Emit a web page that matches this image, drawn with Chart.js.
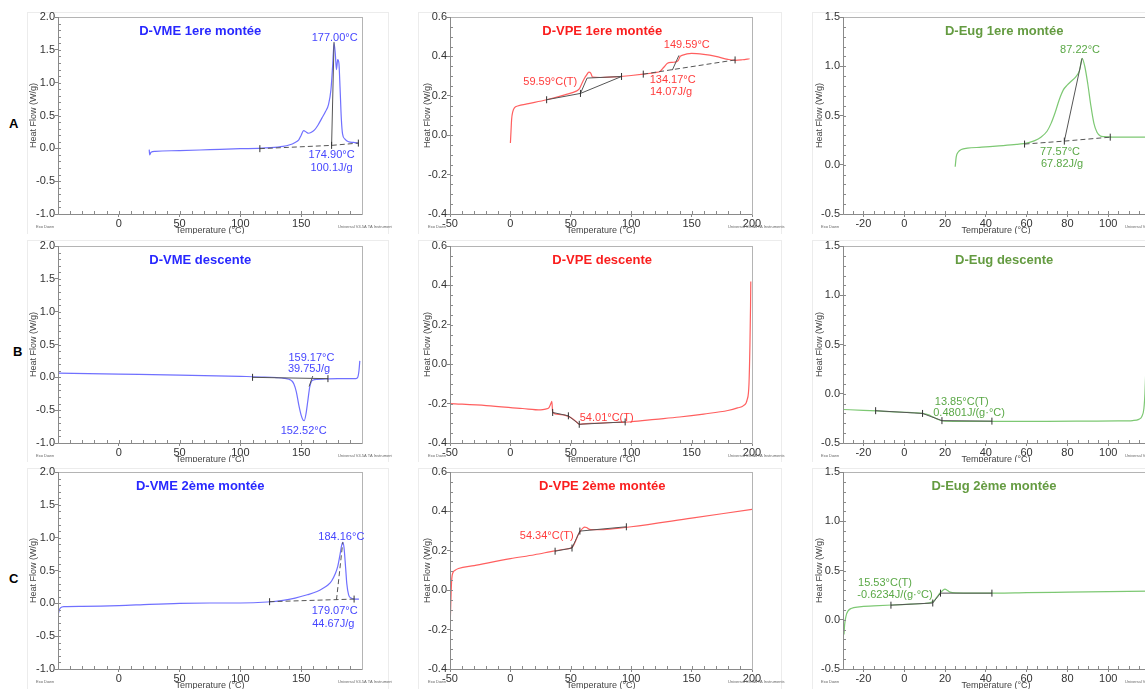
<!DOCTYPE html>
<html lang="fr">
<head>
<meta charset="UTF-8">
<title>DSC D-VME / D-VPE / D-Eug</title>
<script src="https://cdn.jsdelivr.net/npm/chart.js@4.4.0/dist/chart.umd.min.js"></script>
<style>
  html, body { margin: 0; padding: 0; background: #fff; overflow: hidden; width: 1145px; height: 689px; }
  canvas { position: absolute; background: #fff; }
  .rowlab { position: absolute; font: bold 13px "Liberation Sans", Arial, sans-serif; color: #000; line-height: 15px; }
</style>
</head>
<body>
<div class="rowlab" style="left:9px;top:116px">A</div>
<div class="rowlab" style="left:13px;top:344px">B</div>
<div class="rowlab" style="left:9px;top:571px">C</div>
<script>
// ---- curves (temperature in °C, heat flow in W/g) ----
const vme1T = [25, 25.4, 26.5, 30, 50, 75, 100, 115, 125, 135, 140, 145, 148, 150, 152, 154, 156, 158, 161, 164, 167, 170, 172.5, 174.5, 176, 177, 178, 179, 180, 181, 182, 183, 184, 186, 189, 193, 197];
const vme1H = [-0.02, -0.1, -0.06, -0.045, -0.035, -0.02, -0.005, 0.0, 0.01, 0.03, 0.05, 0.09, 0.13, 0.2, 0.27, 0.25, 0.23, 0.24, 0.28, 0.36, 0.46, 0.56, 0.67, 0.9, 1.3, 1.6, 1.45, 1.2, 1.35, 1.3, 0.9, 0.45, 0.22, 0.14, 0.1, 0.09, 0.08];

const vpe1T = [0, 0.5, 1, 2, 3.5, 6, 15, 30, 45, 55, 57, 59, 61, 63, 65, 66.5, 68, 75, 90, 100, 110, 120, 124, 127, 130, 134, 137, 139, 140.5, 142, 150, 160, 170, 180, 186, 192, 198];
const vpe1H = [-0.04, 0.02, 0.08, 0.12, 0.14, 0.148, 0.16, 0.18, 0.205, 0.225, 0.235, 0.26, 0.285, 0.305, 0.32, 0.315, 0.295, 0.293, 0.297, 0.303, 0.31, 0.318, 0.325, 0.345, 0.365, 0.37, 0.372, 0.38, 0.4, 0.405, 0.415, 0.41, 0.4, 0.385, 0.38, 0.383, 0.388];

const eug1T = [25, 25.5, 26.5, 28, 31, 38, 45, 55, 61, 64, 67, 70, 72, 74, 76, 78, 80, 82, 84, 86, 87.2, 88.5, 90, 91.5, 93, 94.5, 96, 98, 102, 110, 125];
const eug1H = [-0.02, 0.08, 0.13, 0.155, 0.168, 0.178, 0.19, 0.206, 0.225, 0.245, 0.28, 0.34, 0.42, 0.53, 0.66, 0.76, 0.81, 0.85, 0.89, 0.96, 1.08, 1.0, 0.82, 0.6, 0.42, 0.33, 0.295, 0.285, 0.28, 0.28, 0.28];

const vmeDT = [-50, 0, 50, 100, 120, 130, 136, 140, 142, 144, 146, 148, 150, 151.5, 152.5, 154, 155.5, 157, 158.5, 160, 163, 170, 180, 190, 195, 196.5, 197.5, 198.2];
const vmeDH = [0.065, 0.05, 0.035, 0.015, 0.005, -0.005, -0.015, -0.03, -0.05, -0.1, -0.22, -0.42, -0.58, -0.65, -0.66, -0.55, -0.35, -0.15, -0.06, -0.04, -0.03, -0.025, -0.02, -0.02, -0.02, 0.0, 0.1, 0.25];

const vpeDT = [-50, -20, 10, 25, 29, 32, 33.5, 34.3, 35, 40, 48, 52, 55, 57, 60, 70, 85, 100, 120, 140, 160, 180, 188, 193, 196, 197.5, 198.3, 198.8, 199];
const vpeDH = [-0.2, -0.21, -0.225, -0.232, -0.228, -0.22, -0.2, -0.188, -0.245, -0.255, -0.265, -0.28, -0.295, -0.305, -0.303, -0.3, -0.296, -0.292, -0.28, -0.268, -0.253, -0.235, -0.222, -0.21, -0.18, -0.1, 0.1, 0.3, 0.42];

const eugDT = [-30, -20, -10, 0, 5, 9, 12, 14, 16, 18, 20, 30, 50, 70, 90, 105, 112, 115, 116.5, 117.5, 118, 118.5];
const eugDH = [-0.16, -0.168, -0.178, -0.188, -0.193, -0.2, -0.215, -0.235, -0.255, -0.272, -0.278, -0.28, -0.28, -0.28, -0.278, -0.276, -0.272, -0.26, -0.23, -0.15, 0.0, 0.28];

const vme2T = [-50, -49.2, -48, -45, -30, 0, 25, 50, 75, 100, 122, 135, 145, 155, 163, 168, 172, 175, 178, 180, 182, 183.2, 184.2, 185.2, 186.5, 187.5, 189, 191, 194, 197.5];
const vme2H = [-0.19, -0.12, -0.07, -0.05, -0.045, -0.035, -0.015, 0.0, 0.005, 0.005, 0.02, 0.045, 0.08, 0.13, 0.18, 0.23, 0.28, 0.34, 0.45, 0.56, 0.75, 0.88, 0.93, 0.85, 0.55, 0.3, 0.13, 0.08, 0.065, 0.065];

const vpe2T = [-50, -49.5, -49, -48.5, -47.5, -46, -43, -30, 0, 20, 37, 45, 50, 52, 54, 56, 58, 60, 61.5, 63, 65, 68, 75, 90, 100, 150, 200];
const vpe2H = [-0.2, -0.1, 0.0, 0.06, 0.09, 0.1, 0.11, 0.125, 0.16, 0.18, 0.2, 0.208, 0.214, 0.225, 0.25, 0.28, 0.3, 0.315, 0.32, 0.318, 0.31, 0.307, 0.307, 0.315, 0.322, 0.366, 0.41];

const eug2T = [-29.5, -29.2, -28.5, -27.5, -26, -22, -15, -6, 3, 10, 12.5, 14.5, 16, 17.5, 19, 20, 21, 22.5, 25, 35, 45, 60, 80, 100, 120];
const eug2H = [-0.15, -0.05, 0.04, 0.09, 0.115, 0.13, 0.14, 0.15, 0.158, 0.165, 0.172, 0.19, 0.23, 0.27, 0.3, 0.31, 0.3, 0.28, 0.272, 0.27, 0.27, 0.275, 0.28, 0.285, 0.29];

// ---- analysis construction lines: [temperature, heat flow] ----
const vme1Base = [[116, -0.005], [175, 0.045], [197, 0.08]];
const vme1Peak = [[175, 0.045], [177, 1.62]];
const vpe1Tg = [[30, 0.18], [58, 0.212], [92, 0.298]];
const vpe1TgSlope = [[58, 0.212], [63.5, 0.29], [92, 0.298]];
const vpe1Base = [[110, 0.31], [186, 0.382]];
const vpe1Onset = [[134, 0.33], [139.5, 0.405]];
const eug1Base = [[59, 0.21], [78.5, 0.24], [101, 0.28]];
const eug1Onset = [[78.5, 0.24], [87.2, 1.08]];
const vmeDBase = [[110, 0.0], [172, -0.02]];
const vmeDOnset = [[156.5, -0.14], [159.5, 0.02]];
const vpeDTg = [[35, -0.245], [48, -0.262], [57, -0.305], [95, -0.293]];
const eugDTg = [[-14, -0.172], [9, -0.2], [18.5, -0.273], [43, -0.278]];
const vme2Base = [[124, 0.025], [193.5, 0.065]];
const vme2Onset = [[179, 0.05], [184.2, 0.93]];
const vpe2Tg = [[37, 0.198], [51, 0.214], [57.5, 0.3], [96, 0.322]];
const eug2Tg = [[-6.5, 0.148], [14, 0.17], [17.8, 0.27], [43, 0.27]];

// ---- axis ticks ----
const xTicksVME = [0, 50, 100, 150];
const xTicksVPE = [-50, 0, 50, 100, 150, 200];
const xTicksEug = [-20, 0, 20, 40, 60, 80, 100];
const yTicksVME = [-1.0, -0.5, 0.0, 0.5, 1.0, 1.5, 2.0];
const yTicksVPE = [-0.4, -0.2, 0.0, 0.2, 0.4, 0.6];
const yTicksEug = [-0.5, 0.0, 0.5, 1.0, 1.5];

const FONT = '"Liberation Sans", Arial, sans-serif';
const BLUE = { line: 'rgb(112,112,255)', text: 'rgb(70,70,255)', title: 'rgb(40,40,255)' };
const RED = { line: 'rgb(255,95,95)', text: 'rgb(255,60,60)', title: 'rgb(250,30,30)' };
const GREEN = { line: 'rgb(125,200,115)', text: 'rgb(90,168,70)', title: 'rgb(100,155,65)' };

const VME = { x: [-50, 200], y: [-1, 2], xt: xTicksVME, yt: yTicksVME, xMinor: 10, yMinor: 0.1, col: BLUE };
const VPE = { x: [-50, 200], y: [-0.4, 0.6], xt: xTicksVPE, yt: yTicksVPE, xMinor: 10, yMinor: 0.05, col: RED };
const EUG = { x: [-30, 120], y: [-0.5, 1.5], xt: xTicksEug, yt: yTicksEug, xMinor: 5, yMinor: 0.1, col: GREEN };

const rows = [{ top: 6, pad: 11 }, { top: 234, pad: 12 }, { top: 462, pad: 10 }];
// frame: faint outline of each exported picture, relative to the canvas
const cols = [{ left: 24, yw: 34, w: 368, pr: 30, frame: 3 }, { left: 418, yw: 32, w: 367, pr: 33, frame: 0 }, { left: 810, yw: 33, w: 370, pr: 31, frame: 2 }];
const XH = 26;

const panels = [
  { r: 0, c: 0, kind: VME, title: 'D-VME 1ere montée', tx: 67, T: vme1T, H: vme1H,
    lines: [[vme1Base, true, true], [vme1Peak, false, false]],
    notes: [['177.00°C', 177.5, 1.68], ['174.90°C', 175, -0.1], ['100.1J/g', 175, -0.3]] },
  { r: 0, c: 1, kind: VPE, title: 'D-VPE 1ere montée', tx: 76, T: vpe1T, H: vpe1H,
    lines: [[vpe1Tg, true, false], [vpe1TgSlope, false, false], [vpe1Base, true, true], [vpe1Onset, false, false]],
    notes: [['59.59°C(T)', 33, 0.27], ['149.59°C', 146, 0.458], ['134.17°C', 134.3, 0.278], ['14.07J/g', 133, 0.217]] },
  { r: 0, c: 2, kind: EUG, title: 'D-Eug 1ere montée', tx: 49, T: eug1T, H: eug1H,
    lines: [[eug1Base, true, true], [eug1Onset, false, false]],
    notes: [['87.22°C', 86.2, 1.17], ['77.57°C', 76.4, 0.125], ['67.82J/g', 77.4, 0.005]] },
  { r: 1, c: 0, kind: VME, title: 'D-VME descente', tx: 67, T: vmeDT, H: vmeDH,
    lines: [[vmeDBase, true, false], [vmeDOnset, false, false]],
    notes: [['159.17°C', 158.4, 0.29], ['39.75J/g', 156.4, 0.12], ['152.52°C', 152, -0.81]] },
  { r: 1, c: 1, kind: VPE, title: 'D-VPE descente', tx: 76, T: vpeDT, H: vpeDH,
    lines: [[vpeDTg, true, false]],
    notes: [['54.01°C(T)', 79.7, -0.271]] },
  { r: 1, c: 2, kind: EUG, title: 'D-Eug descente', tx: 49, T: eugDT, H: eugDH,
    lines: [[eugDTg, true, false]],
    notes: [['13.85°C(T)', 28.2, -0.083], ['0.4801J/(g·°C)', 31.8, -0.2]] },
  { r: 2, c: 0, kind: VME, title: 'D-VME 2ème montée', tx: 67, T: vme2T, H: vme2H,
    lines: [[vme2Base, true, true], [vme2Onset, false, true]],
    notes: [['184.16°C', 183, 1.01], ['179.07°C', 177.5, -0.12], ['44.67J/g', 176.4, -0.31]] },
  { r: 2, c: 1, kind: VPE, title: 'D-VPE 2ème montée', tx: 76, T: vpe2T, H: vpe2H,
    lines: [[vpe2Tg, true, false]],
    notes: [['54.34°C(T)', 30.1, 0.277]] },
  { r: 2, c: 2, kind: EUG, title: 'D-Eug 2ème montée', tx: 44, T: eug2T, H: eug2H,
    lines: [[eug2Tg, true, false]],
    notes: [['15.53°C(T)', -9.4, 0.37], ['-0.6234J/(g·°C)', -4.5, 0.25]] }
];

function decor(p, col) {
  return {
    id: 'decor',
    beforeDraw(chart) {
      const ctx = chart.ctx;
      ctx.save();
      ctx.strokeStyle = '#ececec';
      ctx.lineWidth = 1;
      ctx.strokeRect(col.frame + 0.5, 6.5, chart.width - col.frame - 4, chart.height);
      ctx.restore();
    },
    afterDraw(chart) {
      const { ctx, chartArea: a, scales: { x, y } } = chart;
      const k = p.kind;
      ctx.save();
      // frame
      ctx.lineWidth = 1;
      ctx.strokeStyle = '#b4b4b4';
      ctx.strokeRect(a.left + 0.5, a.top + 0.5, a.right - a.left, a.bottom - a.top);
      ctx.strokeStyle = '#8a8a8a';
      ctx.beginPath();
      ctx.moveTo(a.left + 0.5, a.top);
      ctx.lineTo(a.left + 0.5, a.bottom + 0.5);
      ctx.lineTo(a.right, a.bottom + 0.5);
      // minor ticks, inside
      const nx = Math.round((k.x[1] - k.x[0]) / k.xMinor);
      for (let i = 1; i < nx; i++) {
        const px = Math.round(x.getPixelForValue(k.x[0] + i * k.xMinor)) + 0.5;
        ctx.moveTo(px, a.bottom);
        ctx.lineTo(px, a.bottom - 3);
      }
      const ny = Math.round((k.y[1] - k.y[0]) / k.yMinor);
      for (let i = 1; i < ny; i++) {
        const py = Math.round(y.getPixelForValue(k.y[0] + i * k.yMinor)) + 0.5;
        ctx.moveTo(a.left, py);
        ctx.lineTo(a.left + 3, py);
      }
      ctx.stroke();
      // title
      ctx.textAlign = 'center';
      ctx.textBaseline = 'middle';
      ctx.fillStyle = k.col.title;
      ctx.font = 'bold 13px ' + FONT;
      ctx.fillText(p.title, x.getPixelForValue(p.tx), a.top + 14);
      // values
      ctx.fillStyle = k.col.text;
      ctx.font = '11px ' + FONT;
      p.notes.forEach(([t, vx, vy]) => ctx.fillText(t, x.getPixelForValue(vx), y.getPixelForValue(vy)));
      // instrument footer
      ctx.fillStyle = '#666';
      ctx.font = '4px ' + FONT;
      ctx.textAlign = 'left';
      ctx.fillText('Exo Down', a.left - 22, a.bottom + 13);
      ctx.fillText('Universal V4.5A TA Instruments', a.right - 24, a.bottom + 13);
      ctx.restore();
    }
  };
}

panels.forEach(p => {
  const row = rows[p.r], col = cols[p.c], k = p.kind;
  const cv = document.createElement('canvas');
  const h = row.pad + 197 + XH;
  cv.width = col.w;
  cv.height = h;
  cv.style.left = col.left + 'px';
  cv.style.top = row.top + 'px';
  document.body.appendChild(cv);

  const datasets = p.lines.map(([pts, ticks, dashed]) => ({
    data: pts.map(([t, v]) => ({ x: t, y: v })),
    borderColor: '#555',
    borderWidth: 1,
    borderDash: dashed ? [5, 3] : [],
    pointStyle: 'line',
    rotation: 90,
    pointRadius: ticks ? 3.5 : 0,
    pointBorderColor: '#333',
    pointBorderWidth: 1,
    tension: 0
  }));
  datasets.push({
    data: p.T.map((t, i) => ({ x: t, y: p.H[i] })),
    borderColor: k.col.line,
    borderWidth: 1.2,
    pointRadius: 0,
    cubicInterpolationMode: 'monotone'
  });

  new Chart(cv, {
    type: 'line',
    data: { datasets },
    options: {
      responsive: false,
      animation: false,
      events: [],
      layout: { padding: { top: row.pad, right: col.pr, left: 0, bottom: 0 } },
      plugins: { legend: { display: false }, tooltip: { enabled: false } },
      scales: {
        x: {
          type: 'linear', min: k.x[0], max: k.x[1],
          afterBuildTicks: s => { s.ticks = k.xt.map(v => ({ value: v })); },
          afterFit: s => { s.height = XH; },
          ticks: { font: { size: 11, family: FONT }, color: '#333', padding: 0, maxRotation: 0, callback: v => String(v) },
          grid: { drawOnChartArea: false, tickLength: 3, color: '#888' },
          border: { display: false },
          title: { display: true, text: 'Temperature (°C)', font: { size: 9, family: FONT }, color: '#444', padding: { top: 0, bottom: 3.6 } }
        },
        y: {
          type: 'linear', min: k.y[0], max: k.y[1],
          afterBuildTicks: s => { s.ticks = k.yt.map(v => ({ value: v })); },
          afterFit: s => { s.width = col.yw; },
          ticks: { font: { size: 11, family: FONT }, color: '#333', padding: 0, callback: v => v.toFixed(1) },
          grid: { drawOnChartArea: false, tickLength: 3, color: '#888' },
          border: { display: false },
          title: { display: true, text: 'Heat Flow (W/g)', font: { size: 9, family: FONT }, color: '#444', padding: { top: 4, bottom: 0 } }
        }
      }
    },
    plugins: [decor(p, col)]
  });
});
</script>
</body>
</html>
